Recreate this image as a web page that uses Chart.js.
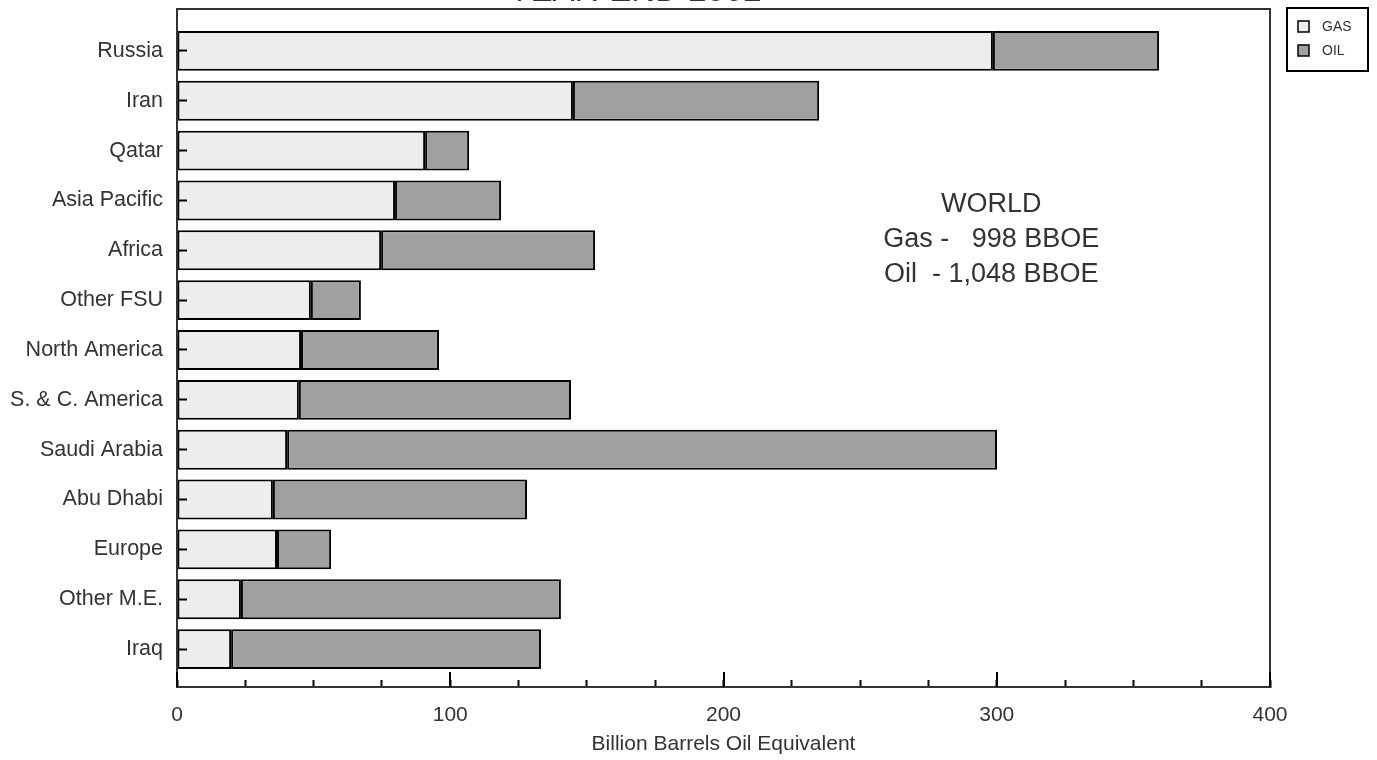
<!DOCTYPE html>
<html>
<head>
<meta charset="utf-8">
<title>Reserves by region</title>
<script src="https://cdn.jsdelivr.net/npm/chart.js@4.4.1/dist/chart.umd.min.js"></script>
<style>
  body { margin: 0; background: #fff; overflow: hidden; }
  #wrap { width: 1377px; height: 790px; margin-top: -30px; }
</style>
</head>
<body>
<div id="wrap"><canvas id="reserveChart" width="1377" height="790"></canvas></div>
<script>
// values (billion barrels oil equivalent)
const regions = ["Russia", "Iran", "Qatar", "Asia Pacific", "Africa", "Other FSU", "North America",
    "S. & C. America", "Saudi Arabia", "Abu Dhabi", "Europe", "Other M.E.", "Iraq"];
const gasValues = [298.6, 144.9, 90.8, 79.8, 74.7, 49.0, 45.4, 44.6, 40.3, 35.1, 36.6, 23.4, 19.8];
const oilValues = [60.8, 90.1, 16.1, 38.8, 78.3, 18.3, 50.5, 99.6, 259.8, 93.0, 19.8, 117.1, 113.4];
const majorTicks = [0, 100, 200, 300, 400];
const worldNote = ["WORLD", "Gas -   998 BBOE", "Oil  - 1,048 BBOE"];

const FONT = "'Liberation Sans', Arial, sans-serif";
const TEXT = "#333";

Chart.defaults.font.family = FONT;
Chart.defaults.color = TEXT;

// box round the plot area
const framePlugin = {
    id: "frame",
    afterDraw(chart) {
        const a = chart.chartArea, ctx = chart.ctx;
        ctx.save();
        ctx.strokeStyle = "#333";
        ctx.lineWidth = 2;
        ctx.strokeRect(a.left, a.top, a.right - a.left, a.bottom - a.top);
        ctx.restore();
    }
};

// longer ticks at every 100
const majorTickPlugin = {
    id: "majorTicks",
    afterDraw(chart) {
        const x = chart.scales.x, ctx = chart.ctx, bottom = chart.chartArea.bottom;
        ctx.save();
        ctx.strokeStyle = "#000";
        ctx.lineWidth = 2;
        majorTicks.forEach(v => {
            const px = Math.round(x.getPixelForValue(v));
            ctx.beginPath();
            ctx.moveTo(px, bottom);
            ctx.lineTo(px, bottom - 15);
            ctx.stroke();
        });
        ctx.restore();
    }
};

// WORLD totals text
const notePlugin = {
    id: "worldNote",
    afterDatasetsDraw(chart) {
        const ctx = chart.ctx;
        const x = chart.scales.x.getPixelForValue(298);
        const y = chart.scales.y.getPixelForValue(3.08);
        ctx.save();
        ctx.font = "27px " + FONT;
        ctx.fillStyle = TEXT;
        ctx.textAlign = "center";
        ctx.textBaseline = "middle";
        worldNote.forEach((line, i) => ctx.fillText(line, x, y + i * 35));
        ctx.restore();
    }
};

// small boxed legend in the top right corner
const legendBoxPlugin = {
    id: "legendBox",
    afterDraw(chart) {
        const ctx = chart.ctx, a = chart.chartArea;
        const left = a.right + 17, top = a.top - 1;
        ctx.save();
        ctx.strokeStyle = "#000";
        ctx.lineWidth = 2;
        ctx.strokeRect(left, top, 81, 63);
        ctx.font = "14px " + FONT;
        ctx.textBaseline = "middle";
        chart.data.datasets.forEach((ds, i) => {
            const y = top + 13 + i * 24;
            ctx.fillStyle = ds.backgroundColor;
            ctx.fillRect(left + 11, y, 11, 11);
            ctx.lineWidth = 1.5;
            ctx.strokeRect(left + 11, y, 11, 11);
            ctx.fillStyle = TEXT;
            ctx.fillText(ds.label, left + 35, y + 6);
        });
        ctx.restore();
    }
};

const ctx = document.getElementById("reserveChart").getContext("2d");
new Chart(ctx, {
    type: "bar",
    data: {
        datasets: [{
            label: "GAS",
            data: gasValues.map((v, i) => ({ x: v, y: i })),
            backgroundColor: "#ededed",
            borderColor: "#000",
            borderWidth: 2,
            borderSkipped: false
        }, {
            label: "OIL",
            data: oilValues.map((v, i) => ({ x: v, y: i })),
            backgroundColor: "#a0a0a0",
            borderColor: "#000",
            borderWidth: 2,
            borderSkipped: false
        }]
    },
    options: {
        indexAxis: "y",
        responsive: false,
        animation: false,
        barPercentage: 1,
        categoryPercentage: 0.8,
        layout: { padding: { left: 0, right: 107, top: 0, bottom: 0 } },
        plugins: {
            legend: { display: false },
            tooltip: { enabled: false },
            title: {
                display: true,
                text: "YEAR-END 2002",
                color: TEXT,
                font: { size: 33, weight: "normal", lineHeight: 1 },
                padding: { top: 5, bottom: 1 }
            }
        },
        scales: {
            x: {
                type: "linear",
                stacked: true,
                min: 0,
                max: 400,
                afterFit(scale) { scale.height = 73; },
                ticks: {
                    stepSize: 25,
                    autoSkip: false,
                    maxRotation: 0,
                    padding: 23,
                    font: { size: 21 },
                    callback: v => (v % 100 === 0 ? v : "")
                },
                grid: { drawOnChartArea: false, tickLength: -7, tickWidth: 2, tickColor: "#000" },
                border: { color: "#333", width: 2 },
                title: {
                    display: true,
                    text: "Billion Barrels Oil Equivalent",
                    font: { size: 21 },
                    padding: { top: 0, bottom: 3 }
                }
            },
            y: {
                type: "linear",
                stacked: true,
                reverse: true,
                offset: false,
                min: -0.84,
                max: 12.76,
                afterFit(scale) { scale.width = 177; },
                afterBuildTicks(scale) {
                    scale.ticks = regions.map((r, i) => ({ value: i }));
                },
                ticks: {
                    padding: 24,
                    font: { size: 21.5 },
                    callback: v => regions[v]
                },
                // ticks point inward, so draw them over the bars
                grid: { z: 1, offset: false, drawOnChartArea: false, tickLength: -10, tickWidth: 2, tickColor: "#000" },
                border: { z: 1, color: "#333", width: 2 }
            }
        }
    },
    plugins: [framePlugin, majorTickPlugin, notePlugin, legendBoxPlugin]
});
</script>
</body>
</html>
